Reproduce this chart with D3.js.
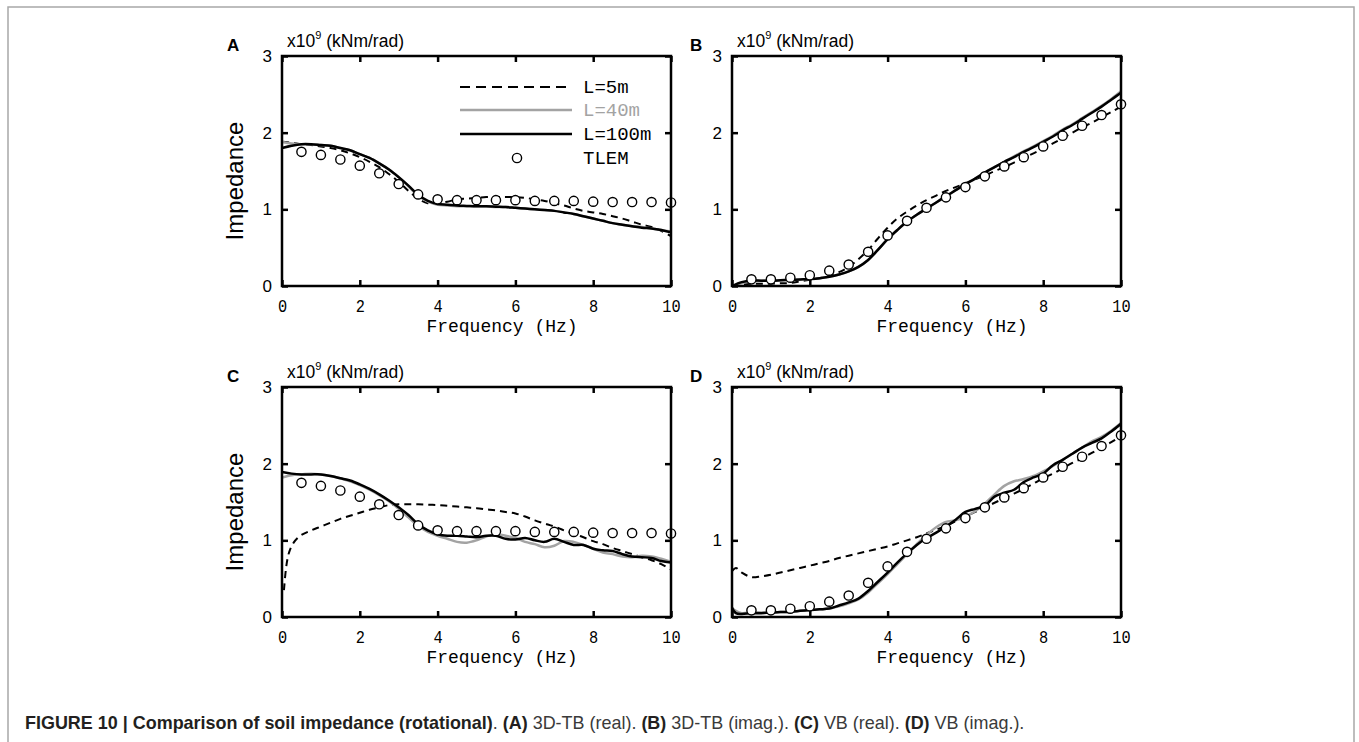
<!DOCTYPE html>
<html>
<head>
<meta charset="utf-8">
<script src="https://cdn.jsdelivr.net/npm/d3@7"></script>
<style>
  html, body { margin: 0; padding: 0; background: #fff; }
  svg { display: block; }
</style>
</head>
<body>
<svg id="chart" width="1359" height="742"></svg>
<script>
// ---------------- DATA ----------------
const freqQ = [0,0.25,0.5,0.75,1,1.25,1.5,1.75,2,2.25,2.5,2.75,3,3.25,3.5,3.75,4,4.25,4.5,4.75,5,5.25,5.5,5.75,6,6.25,6.5,6.75,7,7.25,7.5,7.75,8,8.25,8.5,8.75,9,9.25,9.5,9.75,10];
const freqTLEM = [0.5,1,1.5,2,2.5,3,3.5,4,4.5,5,5.5,6,6.5,7,7.5,8,8.5,9,9.5,10];
const freqC5 = [0.05,0.1,0.15,0.2,0.3,0.4,0.5,0.75,1,1.25,1.5,1.75,2,2.25,2.5,2.75,3,3.25,3.5,3.75,4,4.25,4.5,4.75,5,5.25,5.5,5.75,6,6.25,6.5,6.75,7,7.25,7.5,7.75,8,8.25,8.5,8.75,9,9.25,9.5,9.75,10];
const freqD5 = [0,0.1,0.25,0.5,0.75,1,1.25,1.5,1.75,2,2.25,2.5,2.75,3,3.25,3.5,3.75,4,4.25,4.5,4.75,5,5.25,5.5,5.75,6,6.25,6.5,6.75,7,7.25,7.5,7.75,8,8.25,8.5,8.75,9,9.25,9.5,9.75,10];
const freqD = [0,0.1,0.25,0.5,0.75,1,1.25,1.5,1.75,2,2.25,2.5,2.75,3,3.25,3.5,3.75,4,4.25,4.5,4.75,5,5.25,5.5,5.75,6,6.25,6.5,6.75,7,7.25,7.5,7.75,8,8.25,8.5,8.75,9,9.25,9.5,9.75,10];

// Panel A : 3D-TB (real)
const aL5   = [1.88,1.87,1.85,1.84,1.82,1.80,1.77,1.73,1.68,1.62,1.55,1.46,1.36,1.24,1.14,1.08,1.08,1.10,1.13,1.14,1.15,1.16,1.16,1.16,1.16,1.15,1.13,1.11,1.08,1.05,1.01,0.98,0.96,0.94,0.91,0.88,0.84,0.80,0.77,0.72,0.65];
const aL40  = [1.88,1.86,1.85,1.85,1.84,1.83,1.80,1.77,1.72,1.67,1.60,1.52,1.42,1.30,1.18,1.10,1.06,1.05,1.04,1.04,1.04,1.04,1.03,1.03,1.02,1.01,1.00,0.99,0.98,0.96,0.94,0.91,0.88,0.85,0.82,0.80,0.78,0.77,0.75,0.73,0.71];
const aL100 = [1.80,1.83,1.85,1.85,1.84,1.83,1.80,1.77,1.72,1.67,1.60,1.52,1.42,1.31,1.19,1.11,1.07,1.06,1.05,1.045,1.04,1.04,1.035,1.03,1.02,1.01,1.00,0.99,0.98,0.96,0.94,0.91,0.88,0.85,0.82,0.80,0.78,0.76,0.75,0.73,0.70];

// Panel B : 3D-TB (imag.)
const bL5   = [0.00,0.02,0.03,0.03,0.03,0.035,0.04,0.06,0.08,0.10,0.13,0.18,0.25,0.35,0.47,0.62,0.76,0.88,0.97,1.05,1.12,1.18,1.24,1.29,1.34,1.39,1.44,1.50,1.55,1.61,1.67,1.73,1.79,1.86,1.93,2.00,2.07,2.13,2.20,2.27,2.34];
const bL40  = [0.00,0.04,0.06,0.07,0.07,0.075,0.08,0.085,0.09,0.10,0.12,0.15,0.19,0.25,0.34,0.47,0.61,0.73,0.84,0.93,1.01,1.09,1.17,1.25,1.33,1.40,1.48,1.55,1.62,1.69,1.76,1.82,1.89,1.96,2.04,2.11,2.19,2.27,2.35,2.44,2.54];
const bL100 = [0.00,0.05,0.07,0.07,0.07,0.075,0.08,0.085,0.09,0.10,0.12,0.15,0.19,0.25,0.34,0.47,0.61,0.73,0.84,0.93,1.01,1.09,1.17,1.25,1.33,1.40,1.48,1.55,1.62,1.68,1.75,1.81,1.88,1.95,2.03,2.10,2.18,2.26,2.34,2.43,2.52];

// Panel C : VB (real)
const cL5   = [0.35,0.62,0.78,0.87,0.97,1.03,1.07,1.13,1.18,1.23,1.28,1.32,1.36,1.40,1.43,1.46,1.47,1.47,1.47,1.465,1.46,1.45,1.44,1.43,1.42,1.405,1.39,1.37,1.35,1.31,1.26,1.22,1.18,1.13,1.09,1.04,0.99,0.95,0.90,0.86,0.82,0.78,0.74,0.69,0.62];
const cL40  = [1.82,1.85,1.86,1.87,1.86,1.84,1.81,1.77,1.72,1.66,1.59,1.51,1.41,1.30,1.19,1.11,1.06,1.02,0.98,0.97,1.00,1.05,1.08,1.06,1.03,0.98,0.95,0.91,0.93,0.99,0.98,0.94,0.89,0.84,0.82,0.79,0.78,0.80,0.79,0.76,0.72];
const cL100 = [1.89,1.87,1.86,1.86,1.86,1.84,1.81,1.78,1.73,1.67,1.60,1.52,1.43,1.33,1.21,1.13,1.08,1.06,1.06,1.05,1.04,1.06,1.06,1.02,1.01,1.03,1.00,0.98,1.02,0.98,0.94,0.94,0.89,0.87,0.86,0.82,0.79,0.78,0.77,0.73,0.71];

// Panel D : VB (imag.)
const dL5   = [0.60,0.64,0.58,0.52,0.53,0.55,0.58,0.61,0.64,0.67,0.70,0.73,0.77,0.80,0.83,0.86,0.89,0.92,0.96,1.00,1.04,1.09,1.14,1.19,1.25,1.31,1.37,1.43,1.49,1.55,1.61,1.67,1.74,1.81,1.87,1.94,2.01,2.07,2.14,2.21,2.28,2.36];
const dL40  = [0.12,0.08,0.05,0.06,0.06,0.06,0.065,0.07,0.08,0.09,0.10,0.11,0.14,0.18,0.23,0.32,0.44,0.56,0.69,0.82,0.95,1.07,1.17,1.24,1.26,1.31,1.38,1.48,1.60,1.71,1.77,1.80,1.84,1.90,1.97,2.05,2.13,2.21,2.29,2.35,2.43,2.53];
const dL100 = [0.12,0.05,0.04,0.05,0.05,0.06,0.065,0.07,0.08,0.09,0.10,0.11,0.15,0.19,0.24,0.34,0.46,0.58,0.71,0.83,0.94,1.03,1.10,1.18,1.27,1.37,1.41,1.45,1.57,1.62,1.66,1.76,1.82,1.87,1.98,2.05,2.13,2.21,2.27,2.33,2.42,2.52];

// TLEM reference (same for both models)
const tlemReal = [1.75,1.71,1.65,1.57,1.47,1.33,1.195,1.13,1.12,1.12,1.12,1.12,1.11,1.11,1.11,1.10,1.095,1.095,1.095,1.09];
const tlemImag = [0.087,0.087,0.108,0.14,0.20,0.28,0.446,0.66,0.85,1.02,1.156,1.29,1.43,1.56,1.68,1.82,1.96,2.09,2.23,2.37];

const xTickValues = [0,2,4,6,8,10];
const yTickValues = [0,1,2,3];
const panelLetters = ["A","B","C","D"];
const seriesNames = ["L=5m","L=40m","L=100m","TLEM"];
const yUnitMain = "x10", yUnitExp = "9", yUnitRest = " (kNm/rad)";
const xTitle = "Frequency (Hz)";
const yTitle = "Impedance";

// ---------------- LAYOUT ----------------
const W = 389, H = 230;
const panels = [
  {letter: panelLetters[0], x0: 282, y0: 56,  yTitle: true,  legend: true,
   s5: {f: freqQ, v: aL5}, s40: {f: freqQ, v: aL40}, s100: {f: freqQ, v: aL100}, tlem: tlemReal},
  {letter: panelLetters[1], x0: 732, y0: 56,  yTitle: false, legend: false,
   s5: {f: freqQ, v: bL5}, s40: {f: freqQ, v: bL40}, s100: {f: freqQ, v: bL100}, tlem: tlemImag},
  {letter: panelLetters[2], x0: 282, y0: 387, yTitle: true,  legend: false,
   s5: {f: freqC5, v: cL5}, s40: {f: freqQ, v: cL40}, s100: {f: freqQ, v: cL100}, tlem: tlemReal},
  {letter: panelLetters[3], x0: 732, y0: 387, yTitle: false, legend: false,
   s5: {f: freqD5, v: dL5}, s40: {f: freqD, v: dL40}, s100: {f: freqD, v: dL100}, tlem: tlemImag}
];

const GRAY = "#a3a3a3";
const MONO = "'Liberation Mono', 'DejaVu Sans Mono', monospace";
const SANS = "'Liberation Sans', Arial, sans-serif";

const svg = d3.select("#chart");

// outer frame (journal figure box)
svg.append("path")
  .attr("d", "M8,742 L8,7 L1354,7 L1354,742")
  .attr("fill", "none").attr("stroke", "#a8a8a8").attr("stroke-width", 1.5);

const x = d3.scaleLinear().domain([0, 10]).range([0, W]);
const y = d3.scaleLinear().domain([0, 3]).range([H, 0]);
const line = d3.line().x(d => x(d[0])).y(d => y(d[1])).curve(d3.curveCatmullRom.alpha(0.5));
const zip = (f, v) => f.map((fv, i) => [fv, v[i]]);

panels.forEach(p => {
  const g = svg.append("g").attr("transform", `translate(${p.x0},${p.y0})`);

  const cid = "clip" + p.letter;
  g.append("clipPath").attr("id", cid).append("rect").attr("x", 0).attr("y", 0).attr("width", W).attr("height", H);

  const plot = g.append("g").attr("clip-path", `url(#${cid})`);

  plot.append("path").datum(zip(p.s5.f, p.s5.v)).attr("d", line)
    .attr("fill", "none").attr("stroke", "#000").attr("stroke-width", 2)
    .attr("stroke-dasharray", "7,5");
  plot.append("path").datum(zip(p.s40.f, p.s40.v)).attr("d", line)
    .attr("fill", "none").attr("stroke", GRAY).attr("stroke-width", 2.5);
  plot.append("path").datum(zip(p.s100.f, p.s100.v)).attr("d", line)
    .attr("fill", "none").attr("stroke", "#000").attr("stroke-width", 2.5);

  g.selectAll("circle.tlem").data(zip(freqTLEM, p.tlem)).join("circle")
    .attr("class", "tlem")
    .attr("cx", d => x(d[0])).attr("cy", d => y(d[1])).attr("r", 4.6)
    .attr("fill", "#fff").attr("stroke", "#000").attr("stroke-width", 1.4);

  // axes
  const ax = g.append("g").attr("transform", `translate(0,${H})`)
    .call(d3.axisBottom(x).tickValues(xTickValues).tickSizeInner(-6).tickSizeOuter(0).tickPadding(13).tickFormat(d3.format("d")));
  ax.select(".domain").remove();
  ax.selectAll(".tick line").attr("stroke-width", 2.5);
  ax.selectAll(".tick text").attr("font-family", MONO).attr("font-size", 18)
    .attr("fill", "#000").attr("transform", "scale(0.85,1)");

  const axt = g.append("g")
    .call(d3.axisTop(x).tickValues(xTickValues).tickSizeInner(-6).tickSizeOuter(0).tickFormat(""));
  axt.select(".domain").remove();
  axt.selectAll(".tick line").attr("stroke-width", 2.5);

  const ay = g.append("g")
    .call(d3.axisLeft(y).tickValues(yTickValues).tickSizeInner(-6).tickSizeOuter(0).tickPadding(10).tickFormat(d3.format("d")));
  ay.select(".domain").remove();
  ay.selectAll(".tick line").attr("stroke-width", 2.5);
  ay.selectAll(".tick text").attr("font-family", SANS).attr("font-size", 17).attr("fill", "#000");

  const ayr = g.append("g").attr("transform", `translate(${W},0)`)
    .call(d3.axisRight(y).tickValues(yTickValues).tickSizeInner(-6).tickSizeOuter(0).tickFormat(""));
  ayr.select(".domain").remove();
  ayr.selectAll(".tick line").attr("stroke-width", 2.5);

  // frame
  g.append("rect").attr("x", 0).attr("y", 0).attr("width", W).attr("height", H)
    .attr("fill", "none").attr("stroke", "#000").attr("stroke-width", 2.5);

  // x title
  g.append("text").attr("x", 220).attr("y", H + 46).attr("text-anchor", "middle")
    .attr("font-family", MONO).attr("font-size", 18).attr("fill", "#000")
    .attr("xml:space", "preserve").text(xTitle);

  // unit label
  const ut = g.append("text").attr("x", 5).attr("y", -9)
    .attr("font-family", SANS).attr("font-size", 17.5).attr("fill", "#000");
  ut.append("tspan").text(yUnitMain);
  ut.append("tspan").attr("font-size", 11).attr("dy", -8).text(yUnitExp);
  ut.append("tspan").attr("dy", 8).text(yUnitRest);

  // panel letter
  svg.append("text").attr("x", p.x0 < 500 ? 227 : 690).attr("y", p.y0 - 5)
    .attr("font-family", SANS).attr("font-weight", "bold").attr("font-size", 17)
    .attr("fill", "#000").text(p.letter);

  // y title
  if (p.yTitle) {
    g.append("text").attr("transform", `translate(-39,${H / 2 + 10}) rotate(-90)`)
      .attr("text-anchor", "middle").attr("font-family", SANS).attr("font-size", 24)
      .attr("fill", "#000").text(yTitle);
  }

  // legend
  if (p.legend) {
    const lg = g.append("g");
    const rows = [31, 54, 78];
    const styles = [
      {stroke: "#000", w: 2, dash: "10,6", color: "#000"},
      {stroke: GRAY, w: 2.5, dash: null, color: GRAY},
      {stroke: "#000", w: 2.5, dash: null, color: "#000"}
    ];
    rows.forEach((ry, i) => {
      lg.append("line").attr("x1", 178).attr("x2", 290).attr("y1", ry).attr("y2", ry)
        .attr("stroke", styles[i].stroke).attr("stroke-width", styles[i].w)
        .attr("stroke-dasharray", styles[i].dash);
      lg.append("text").attr("x", 301).attr("y", ry + 6)
        .attr("font-family", MONO).attr("font-size", 19).attr("fill", styles[i].color)
        .text(seriesNames[i]);
    });
    lg.append("circle").attr("cx", 235).attr("cy", 102).attr("r", 4.6)
      .attr("fill", "#fff").attr("stroke", "#000").attr("stroke-width", 1.4);
    lg.append("text").attr("x", 301).attr("y", 108)
      .attr("font-family", MONO).attr("font-size", 19).attr("fill", "#000").text(seriesNames[3]);
  }
});

// caption
const cap = svg.append("text").attr("x", 0).attr("y", 0)
  .attr("font-family", SANS).attr("font-size", 18).attr("fill", "#333");
const capParts = [
  ["FIGURE 10 | Comparison of soil impedance (rotational)", true],
  [". ", false], ["(A)", true], [" 3D-TB (real). ", false],
  ["(B)", true], [" 3D-TB (imag.). ", false],
  ["(C)", true], [" VB (real). ", false],
  ["(D)", true], [" VB (imag.).", false]
];
capParts.forEach(([t, b]) => {
  cap.append("tspan").attr("font-weight", b ? "bold" : "normal")
    .attr("fill", b ? "#231f20" : "#3a3a3a").attr("xml:space", "preserve").text(t);
});
cap.attr("xml:space", "preserve");
const capLen = cap.node().getComputedTextLength();
const sx = 1000 / capLen;
cap.attr("transform", `translate(25,729) scale(${sx},1)`);
</script>
</body>
</html>
